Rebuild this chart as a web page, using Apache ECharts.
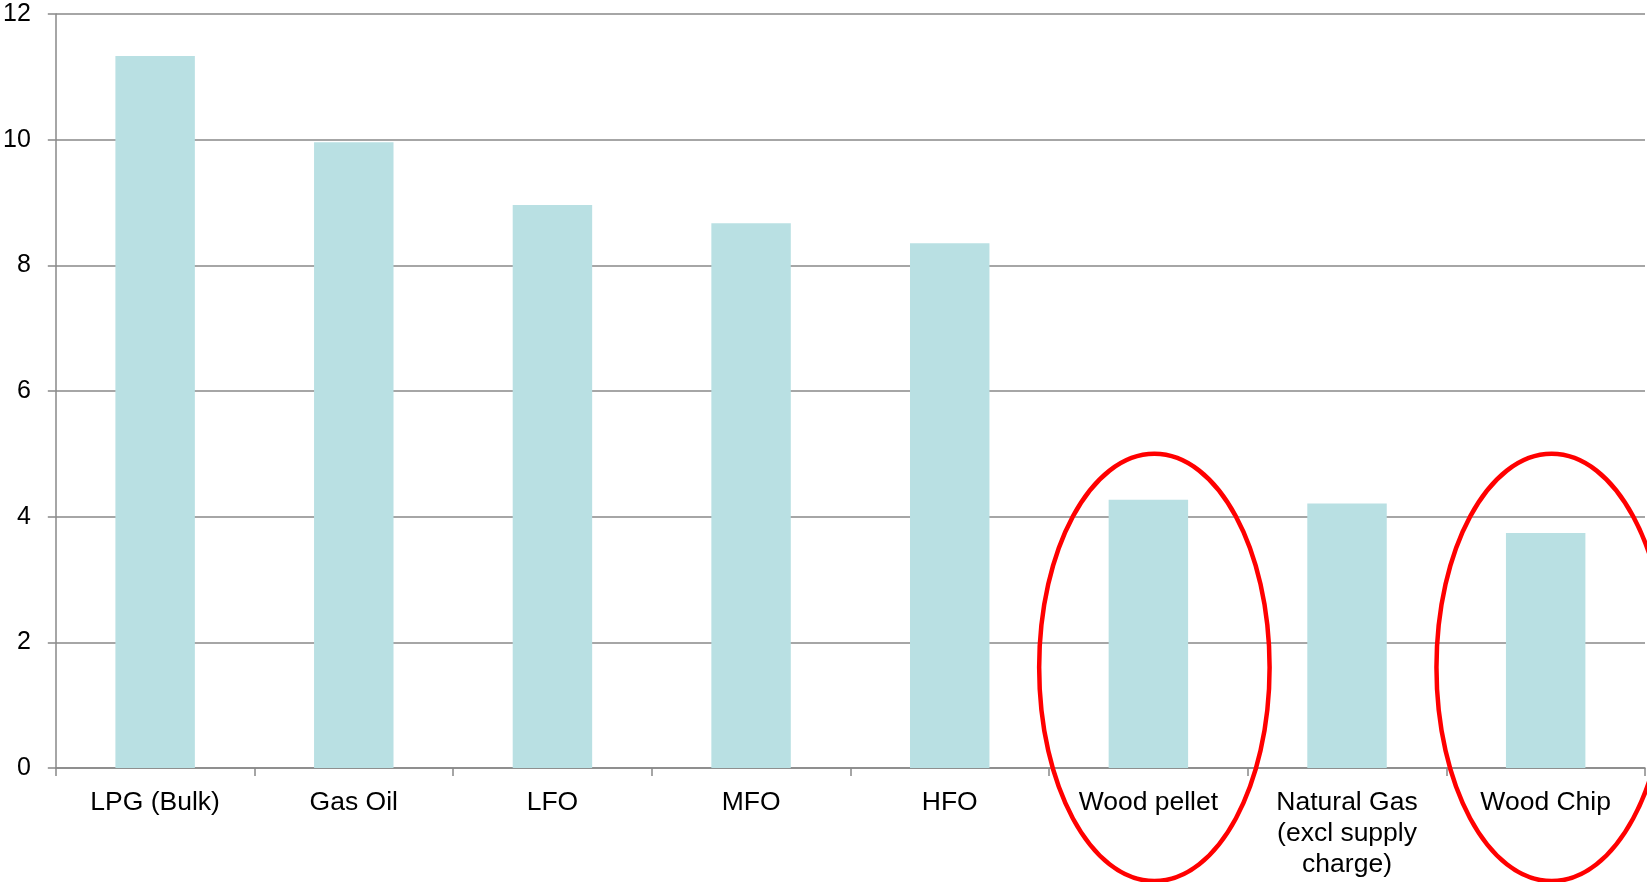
<!DOCTYPE html>
<html>
<head>
<meta charset="utf-8">
<script src="https://cdn.jsdelivr.net/npm/echarts@6/dist/echarts.min.js"></script>
<style>
html,body{margin:0;padding:0;background:#fff;}
#chart{width:1647px;height:882px;}
</style>
</head>
<body>
<div id="chart"></div>
<script>
// Data
const categories = ['LPG (Bulk)', 'Gas Oil', 'LFO', 'MFO', 'HFO', 'Wood pellet', 'Natural Gas\n(excl supply\ncharge)', 'Wood Chip'];
const values = [11.33, 9.96, 8.96, 8.67, 8.35, 4.27, 4.21, 3.74];
const yTicks = { min: 0, max: 12, interval: 2 };
// Highlight annotations (categories circled in red) and their vertical extent in data units
const highlighted = ['Wood pellet', 'Wood Chip'];
const highlightYRange = [-1.8, 5.0];

const chart = echarts.init(document.getElementById('chart'));
const font = 'Liberation Sans, Arial, sans-serif';
const gray = '#888888';

chart.setOption({
  animation: false,
  backgroundColor: '#fff',
  grid: { left: 53, right: 2, top: 14, bottom: 114, containLabel: false },
  xAxis: {
    type: 'category',
    data: categories,
    axisLine: { lineStyle: { color: gray, width: 1.5 } },
    axisTick: { show: true, length: 8, lineStyle: { color: gray, width: 1.5 } },
    axisLabel: { interval: 0, color: '#000', fontFamily: font, fontSize: 26.5, lineHeight: 31, margin: 19 }
  },
  yAxis: {
    type: 'value',
    min: yTicks.min, max: yTicks.max, interval: yTicks.interval,
    axisLine: { show: true, lineStyle: { color: gray, width: 1.5 } },
    axisTick: { show: true, length: 8, lineStyle: { color: gray, width: 1.5 } },
    axisLabel: { color: '#000', fontFamily: font, fontSize: 25, margin: 25 },
    splitLine: { show: true, lineStyle: { color: gray, width: 1.5 } }
  },
  series: [{
    type: 'bar',
    data: values,
    barWidth: '40%',
    itemStyle: { color: '#b9e0e3' }
  }]
});

function drawHighlights() {
  const graphics = highlighted.map(function (cat, i) {
    const cx = chart.convertToPixel({ xAxisIndex: 0 }, cat) + 6;
    const yTop = chart.convertToPixel({ yAxisIndex: 0 }, highlightYRange[1]);
    const yBot = chart.convertToPixel({ yAxisIndex: 0 }, highlightYRange[0]);
    const bandW = chart.convertToPixel({ xAxisIndex: 0 }, categories[1]) - chart.convertToPixel({ xAxisIndex: 0 }, categories[0]);
    return {
      type: 'ellipse',
      id: 'hl' + i,
      shape: { cx: cx, cy: (yTop + yBot) / 2, rx: bandW * 0.58, ry: (yBot - yTop) / 2 },
      style: { fill: 'none', stroke: '#ff0000', lineWidth: 4.5 },
      z: 100
    };
  });
  chart.setOption({ graphic: graphics });
}
drawHighlights();
</script>
</body>
</html>
